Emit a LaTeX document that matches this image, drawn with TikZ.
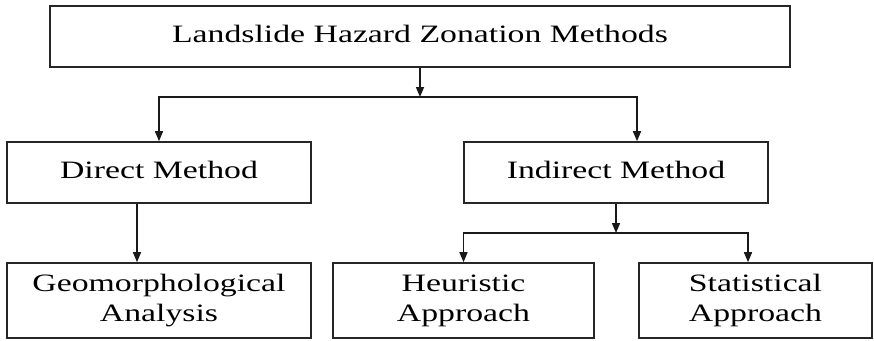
\documentclass[tikz,border=0pt]{standalone}
\usepackage{fontspec}
\setmainfont{Liberation Serif}
\usetikzlibrary{arrows.meta}
\newcommand{\wide}[1]{\scalebox{1.35}[1]{\begin{tabular}{@{}c@{}}#1\end{tabular}}}
\begin{document}
\begin{tikzpicture}[x=1pt,y=-1pt,
  box/.style={draw=black!85,line width=1.6pt,inner sep=0pt,
    font=\fontsize{25}{30}\selectfont},
  link/.style={draw=black!90,line width=1.5pt,-{Triangle[length=10pt,width=8pt]}},
  plain/.style={draw=black!90,line width=1.5pt}]
\useasboundingbox (0,0) rectangle (874,340);
\node[box,minimum width=740pt,minimum height=61pt] (top) at (420,36.5) {\wide{Landslide Hazard Zonation Methods}};
\node[box,minimum width=304pt,minimum height=61pt] (direct) at (159,172.5) {\wide{Direct Method}};
\node[box,minimum width=304pt,minimum height=61pt] (indirect) at (616,172.5) {\wide{Indirect Method}};
\node[box,minimum width=304pt,minimum height=75pt] (geo) at (159,300.5) {\wide{Geomorphological\\Analysis}};
\node[box,minimum width=261pt,minimum height=75pt] (heur) at (463.5,300.5) {\wide{Heuristic\\Approach}};
\node[box,minimum width=233pt,minimum height=75pt] (stat) at (755.5,300.5) {\wide{Statistical\\Approach}};
\coordinate (j1) at (420,97);
\coordinate (j2) at (616,233);
\draw[link] (top.south) -- (j1);
\draw[link] (j1) -| (direct.north);
\draw[link] (j1) -| ([xshift=21pt]indirect.north);
\draw[link] ([xshift=-22pt]direct.south) -- ([xshift=-22pt]geo.north);
\draw[link] (indirect.south) -- (j2);
\draw[link] (j2) -| (heur.north);
\draw[link] (j2) -| ([xshift=-7.5pt]stat.north);
\end{tikzpicture}
\end{document}
